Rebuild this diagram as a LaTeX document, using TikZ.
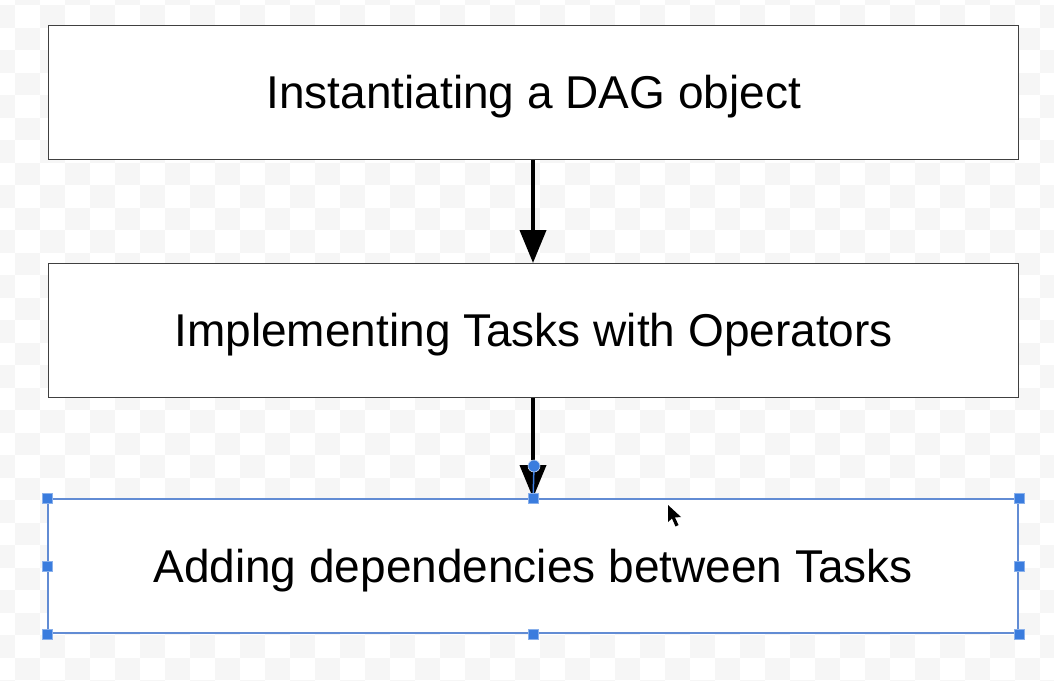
\documentclass[tikz,border=0pt]{standalone}
\usepackage{fontspec}
\setmainfont{Liberation Sans}
\usetikzlibrary{arrows.meta}
\definecolor{checker}{RGB}{246,246,246}
\definecolor{selblue}{RGB}{98,140,212}
\definecolor{handleblue}{RGB}{58,124,222}
\newcommand{\boxtext}[1]{\raisebox{-4pt}[\height][\depth]{#1}}
\tikzset{
  stepbox/.style={draw=black!75, line width=1.4pt, fill=white, minimum width=970pt, minimum height=134pt, inner sep=0pt, font=\fontsize{46}{55}\selectfont, anchor=north west},
  selbox/.style={stepbox, draw=selblue, line width=2.2pt},
  flow/.style={line width=4pt, -{Triangle[width=26pt,length=33pt]}},
  handle/.style={fill=handleblue, draw=handleblue!60!white, line width=0.6pt, minimum size=10pt, inner sep=0pt, shape=rectangle}
}
\begin{document}
\begin{tikzpicture}[x=1pt,y=-1pt]
\useasboundingbox (0,0) rectangle (1054,680);
\fill[white] (0,0) rectangle (1054,680);
\foreach \i in {0,...,43}{
  \foreach \j in {0,...,31}{
    \pgfmathtruncatemacro{\myparity}{mod(\i+\j,2)}
    \ifnum\myparity=1
      \fill[checker] (-10+25*\i,-17.5+22.5*\j) rectangle ++(25,22.5);
    \fi
  }
}
\node[stepbox] (b1) at (48,25) {\boxtext{Instantiating a DAG object}};
\node[stepbox] (b2) at (48,263) {\boxtext{Implementing Tasks with Operators}};
\node[selbox] (b3) at (47,498) {\boxtext{Adding dependencies between Tasks}};
\draw[flow] (b1.south -| 533,0) -- (b2.north -| 533,0);
\draw[flow] (b2.south -| 533,0) -- (b3.north -| 533,0);
% selection decorations
\coordinate (hc) at (534,466);
\draw[handleblue, line width=1.5pt] (hc) -- (b3.north);
\fill[handleblue] (hc) circle (6pt);
\draw[white!70!handleblue, line width=0.6pt] (hc) circle (6pt);
\foreach \a in {north west,north,north east,west,east,south west,south,south east}{
  \node[handle] at (b3.\a) {};
}
% mouse cursor
\fill[black] (668,505) -- (668,522) -- (672,518.5) -- (675.5,526.5) -- (678.5,525) -- (675,517.5) -- (681,517) -- cycle;
\end{tikzpicture}
\end{document}
